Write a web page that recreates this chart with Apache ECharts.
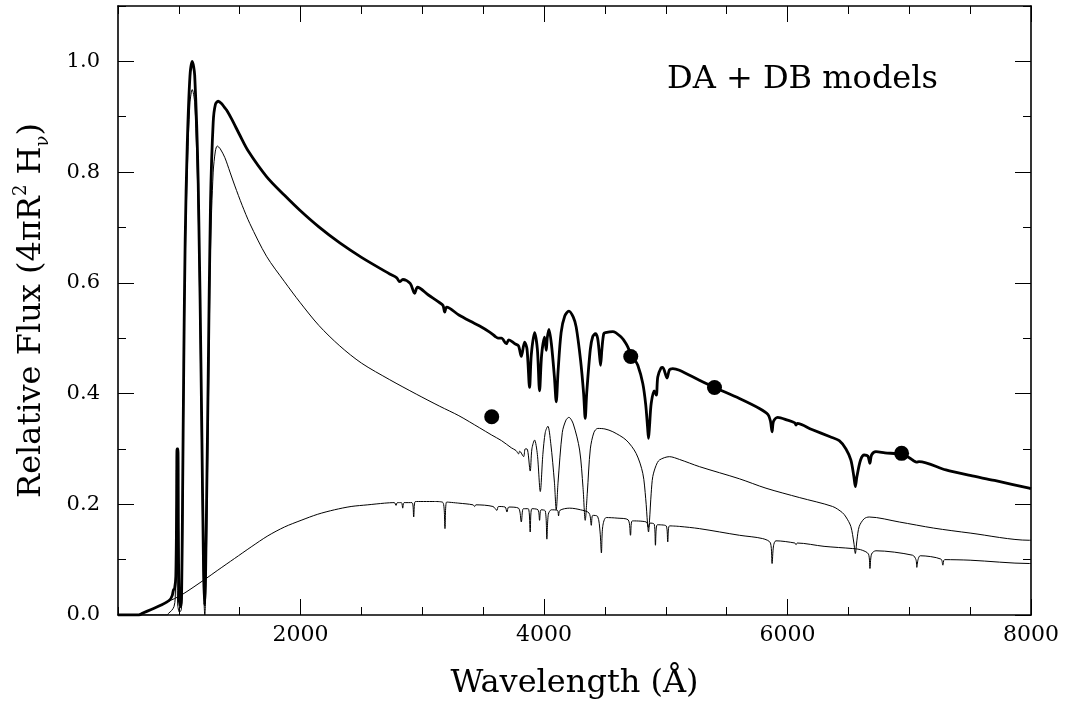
<!DOCTYPE html>
<html>
<head>
<meta charset="utf-8">
<script src="https://cdn.jsdelivr.net/npm/echarts@6/dist/echarts.min.js"></script>
<style>
html,body{margin:0;padding:0;background:#fff;}
#chart{width:1068px;height:709px;}
</style>
</head>
<body>
<div id="chart"></div>
<script>
// ---- data (wavelength in Å, relative flux) ----
const totalSpectrum = [
[500,0],[670,0],[700,0.003],[773,0.010],[855,0.018],[924,0.027],[945,0.035],[955,0.045],[965,0.048],
[975,0.07],[982,0.2],[985,0.30],[992,0.30],[996,0.15],[1002,0.03],[1014,0.015],[1022,0.03],[1030,0.2],
[1040,0.45],[1052,0.68],[1069,0.85],[1091,0.973],[1110,1.0],[1130,0.975],[1159,0.78],[1187,0.36],
[1203,0.08],[1212,0.018],[1220,0.08],[1241,0.43],[1260,0.744],[1282,0.89],[1300,0.922],[1323,0.928],
[1350,0.924],[1378,0.916],[1392,0.912],[1433,0.896],[1500,0.867],[1570,0.838],[1720,0.792],[1868,0.758],
[1994,0.731],[2150,0.701],[2322,0.672],[2500,0.646],[2732,0.616],[2790,0.609],[2814,0.602],[2840,0.606],
[2900,0.599],[2937,0.581],[2960,0.592],[3050,0.578],[3143,0.564],[3170,0.559],[3184,0.547],[3200,0.556],
[3300,0.542],[3400,0.530],[3471,0.522],[3553,0.511],[3600,0.503],[3621,0.500],[3650,0.500],[3690,0.490],
[3710,0.497],[3760,0.490],[3790,0.486],[3813,0.467],[3840,0.493],[3860,0.480],[3881,0.411],[3895,0.47],
[3922,0.510],[3945,0.48],[3963,0.405],[3980,0.47],[4004,0.502],[4018,0.478],[4026,0.50],[4040,0.516],
[4060,0.49],[4085,0.43],[4100,0.385],[4115,0.44],[4140,0.51],[4170,0.54],[4204,0.549],[4240,0.538],
[4264,0.52],[4300,0.46],[4325,0.40],[4338,0.355],[4350,0.40],[4380,0.48],[4400,0.503],[4422,0.508],
[4440,0.50],[4455,0.47],[4464,0.451],[4475,0.48],[4490,0.508],[4504,0.510],[4565,0.512],[4633,0.502],
[4674,0.490],[4700,0.478],[4710,0.470],[4740,0.462],[4770,0.451],[4811,0.418],[4835,0.38],[4850,0.34],
[4858,0.319],[4866,0.34],[4880,0.382],[4905,0.405],[4922,0.397],[4934,0.43],[4960,0.446],[4975,0.447],
[5010,0.428],[5030,0.443],[5057,0.445],[5112,0.442],[5276,0.424],[5400,0.411],[5605,0.391],[5769,0.373],
[5840,0.362],[5860,0.35],[5873,0.331],[5885,0.35],[5919,0.357],[6000,0.352],[6060,0.347],[6070,0.343],
[6080,0.346],[6200,0.335],[6350,0.322],[6425,0.315],[6480,0.30],[6520,0.28],[6545,0.25],[6557,0.232],
[6570,0.25],[6600,0.28],[6630,0.289],[6660,0.287],[6677,0.274],[6690,0.289],[6726,0.295],[6800,0.293],
[6937,0.290],[7000,0.284],[7040,0.278],[7060,0.276],[7080,0.277],[7301,0.262],[7500,0.252],[7700,0.243],
[7985,0.229],[8000,0.228]
];
const daSpectrum = [
[500,0],[905,0],[915,0.003],[940,0.008],[960,0.015],[970,0.03],[976,0.12],[980,0.262],[984,0.12],
[990,0.02],[1005,0.005],[1020,0.01],[1030,0.12],[1040,0.40],[1052,0.63],[1069,0.80],[1091,0.925],
[1110,0.949],[1130,0.925],[1159,0.73],[1187,0.30],[1203,0.05],[1213,0.0],[1222,0.05],[1241,0.35],
[1260,0.66],[1282,0.80],[1300,0.838],[1315,0.847],[1340,0.842],[1378,0.826],[1420,0.800],[1460,0.775],
[1520,0.740],[1583,0.707],[1720,0.648],[1868,0.602],[1994,0.565],[2150,0.523],[2322,0.486],[2500,0.455],
[2732,0.425],[2950,0.399],[3143,0.377],[3300,0.360],[3471,0.338],[3570,0.325],[3650,0.315],[3731,0.302],
[3770,0.297],[3790,0.291],[3800,0.296],[3832,0.286],[3845,0.30],[3860,0.30],[3886,0.26],[3900,0.30],
[3922,0.316],[3945,0.29],[3969,0.223],[3990,0.29],[4010,0.33],[4031,0.341],[4055,0.31],[4085,0.24],
[4100,0.19],[4115,0.24],[4150,0.33],[4180,0.352],[4204,0.357],[4240,0.345],[4292,0.298],[4320,0.23],
[4338,0.171],[4355,0.22],[4380,0.30],[4410,0.33],[4441,0.337],[4500,0.336],[4565,0.331],[4674,0.316],
[4756,0.292],[4811,0.256],[4835,0.21],[4850,0.165],[4858,0.15],[4866,0.17],[4880,0.22],[4893,0.25],
[4920,0.27],[4948,0.28],[5030,0.286],[5112,0.281],[5276,0.268],[5605,0.246],[5823,0.229],[6100,0.212],
[6370,0.196],[6450,0.185],[6480,0.177],[6520,0.16],[6545,0.13],[6557,0.111],[6570,0.135],[6589,0.16],
[6630,0.174],[6671,0.177],[6918,0.168],[7200,0.157],[7500,0.148],[7985,0.135],[8000,0.135]
];
const dbSpectrum = [
[500,0],[660,0],[700,0.003],[773,0.010],[855,0.018],[910,0.024],[1020,0.036],[1211,0.064],[1320,0.081],
[1457,0.102],[1594,0.123],[1731,0.143],[1868,0.159],[2004,0.171],[2141,0.182],[2278,0.190],[2415,0.196],
[2552,0.199],[2689,0.202],[2770,0.203],[2784,0.198],[2795,0.203],[2828,0.203],[2839,0.193],[2850,0.203],
[2915,0.203],[2929,0.177],[2943,0.205],[3100,0.205],[3170,0.203],[3186,0.156],[3200,0.204],[3300,0.202],
[3416,0.199],[3430,0.196],[3440,0.199],[3580,0.196],[3613,0.189],[3625,0.196],[3680,0.195],[3695,0.186],
[3710,0.195],[3790,0.193],[3813,0.168],[3830,0.192],[3870,0.192],[3886,0.150],[3900,0.192],[3950,0.190],
[3963,0.171],[3975,0.190],[4010,0.188],[4023,0.137],[4035,0.182],[4060,0.190],[4110,0.189],[4119,0.179],
[4130,0.189],[4210,0.193],[4300,0.190],[4370,0.184],[4388,0.162],[4400,0.180],[4440,0.178],[4460,0.150],
[4471,0.112],[4482,0.160],[4511,0.176],[4600,0.175],[4690,0.172],[4710,0.144],[4725,0.170],[4840,0.168],
[4858,0.158],[4870,0.166],[4905,0.164],[4915,0.126],[4930,0.163],[5003,0.161],[5016,0.132],[5030,0.161],
[5112,0.160],[5276,0.156],[5605,0.144],[5796,0.138],[5860,0.130],[5873,0.093],[5885,0.125],[5905,0.134],
[6060,0.130],[6070,0.127],[6080,0.130],[6300,0.124],[6535,0.120],[6600,0.118],[6665,0.11],[6677,0.084],
[6690,0.11],[6726,0.116],[7027,0.108],[7055,0.100],[7062,0.086],[7072,0.100],[7090,0.107],[7260,0.101],
[7276,0.090],[7290,0.100],[7500,0.099],[7985,0.093],[8000,0.093]
];
const photometry = [[3570,0.358],[4712,0.467],[5400,0.411],[6937,0.292]];
const xMajorTicks = [2000,4000,6000,8000];
const yMajorTicks = [0,0.2,0.4,0.6,0.8,1.0];
const annotation = 'DA + DB models';

const FONT = 'DejaVu Serif';
const chart = echarts.init(document.getElementById('chart'), null, {renderer:'canvas'});
const lineStyleAxis = {color:'#000', width:1.6};
function xAx(pos, major, showLine){
  return {
    type:'value', position:pos, min:500, max:8000, interval:500,
    axisLine:{show:showLine, onZero:false, lineStyle:lineStyleAxis},
    axisTick: major ? {inside:true, length:16, lineStyle:{color:'#000',width:1}, customValues:xMajorTicks}
                    : {inside:true, length:8, lineStyle:{color:'#000',width:1}},
    axisLabel: (major && pos==='bottom') ? {show:true, customValues:xMajorTicks, margin:9, color:'#000',
        fontFamily:FONT, fontSize:22, formatter:v=>String(Math.round(v))} : {show:false},
    splitLine:{show:false}
  };
}
function yAx(pos, major, showLine){
  return {
    type:'value', position:pos, min:0, max:1.1, interval:0.1,
    axisLine:{show:showLine, onZero:false, lineStyle:lineStyleAxis},
    axisTick: major ? {inside:true, length:16, lineStyle:{color:'#000',width:1}, customValues:yMajorTicks}
                    : {inside:true, length:8, lineStyle:{color:'#000',width:1}},
    axisLabel: (major && pos==='left') ? {show:true, customValues:yMajorTicks, margin:18, color:'#000',
        fontFamily:FONT, fontSize:21, formatter:v=>v.toFixed(1)} : {show:false},
    splitLine:{show:false}
  };
}
const xAxes = [xAx('bottom',false,true), xAx('bottom',true,false), xAx('top',false,true), xAx('top',true,false)];
xAxes[0].name = 'Wavelength (Å)';
xAxes[0].nameLocation = 'middle';
xAxes[0].nameGap = 53;
xAxes[0].nameTextStyle = {fontFamily:FONT, fontSize:32, color:'#000'};
const yAxes = [yAx('left',false,true), yAx('left',true,false), yAx('right',false,true), yAx('right',true,false)];
yAxes[0].name = '{a|Relative Flux (4πR}{sup|2}{a| H}{sub|ν}{a|)}';
yAxes[0].nameLocation = 'middle';
yAxes[0].nameGap = 66;
yAxes[0].nameRotate = 90;
yAxes[0].nameTextStyle = {
  fontFamily:FONT, fontSize:32, color:'#000',
  rich:{
    a:{fontFamily:FONT, fontSize:32, color:'#000', lineHeight:40, verticalAlign:'middle'},
    sup:{fontFamily:FONT, fontSize:18, color:'#000', lineHeight:40, verticalAlign:'top', padding:[0,0,14,0]},
    sub:{fontFamily:FONT, fontSize:18, color:'#000', lineHeight:40, verticalAlign:'bottom', padding:[10,0,0,0]}
  }
};

const option = {
  animation:false,
  backgroundColor:'#fff',
  grid:{left:118, right:37, top:6, bottom:94, containLabel:false},
  xAxis:xAxes,
  yAxis:yAxes,
  graphic:[{type:'text', left:667, top:64, style:{text:annotation, font:'32px "DejaVu Serif"', fill:'#000'}}],
  series:[
    {type:'line', data:dbSpectrum, xAxisIndex:0, yAxisIndex:0, showSymbol:false, symbol:'none',
      smooth:0.3, lineStyle:{color:'#000', width:1}, z:2},
    {type:'line', data:daSpectrum, xAxisIndex:0, yAxisIndex:0, showSymbol:false, symbol:'none',
      smooth:0.3, lineStyle:{color:'#000', width:1}, z:3},
    {type:'line', data:totalSpectrum, xAxisIndex:0, yAxisIndex:0, showSymbol:false, symbol:'none',
      smooth:0.3, lineStyle:{color:'#000', width:2.8, join:'round'}, z:4},
    {type:'scatter', data:photometry, xAxisIndex:0, yAxisIndex:0, symbol:'circle', symbolSize:15,
      itemStyle:{color:'#000', opacity:1}, z:5}
  ]
};
chart.setOption(option);
</script>
</body>
</html>
